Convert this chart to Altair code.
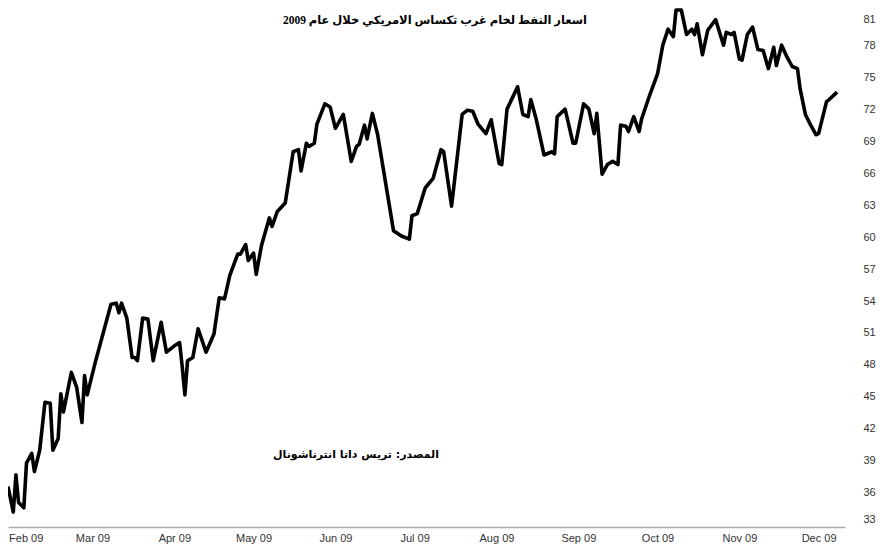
import altair as alt
import pandas as pd

dates = [
    "2009-02-11", "2009-02-13", "2009-02-14", "2009-02-15", "2009-02-17", "2009-02-18",
    "2009-02-20", "2009-02-21", "2009-02-23", "2009-02-25", "2009-02-27", "2009-02-28",
    "2009-03-02", "2009-03-03", "2009-03-04", "2009-03-07", "2009-03-09", "2009-03-11", "2009-03-12",
    "2009-03-13", "2009-03-16", "2009-03-22", "2009-03-24", "2009-03-25", "2009-03-26", "2009-03-28",
    "2009-03-30", "2009-03-31",
    "2009-04-01", "2009-04-03", "2009-04-05", "2009-04-07", "2009-04-10", "2009-04-12", "2009-04-15",
    "2009-04-17", "2009-04-18", "2009-04-19", "2009-04-20", "2009-04-22", "2009-04-24", "2009-04-27",
    "2009-04-30",
    "2009-05-02", "2009-05-04", "2009-05-06", "2009-05-09", "2009-05-10", "2009-05-12", "2009-05-13",
    "2009-05-15", "2009-05-16", "2009-05-18", "2009-05-21", "2009-05-22", "2009-05-24", "2009-05-27",
    "2009-05-30",
    "2009-06-01", "2009-06-02", "2009-06-04", "2009-06-05", "2009-06-07", "2009-06-08", "2009-06-11",
    "2009-06-13", "2009-06-15", "2009-06-18", "2009-06-21", "2009-06-23", "2009-06-24", "2009-06-26",
    "2009-06-27", "2009-06-29",
    "2009-07-01", "2009-07-07", "2009-07-10", "2009-07-13", "2009-07-14", "2009-07-16", "2009-07-19",
    "2009-07-22", "2009-07-25", "2009-07-26", "2009-07-29",
    "2009-08-02", "2009-08-04", "2009-08-06", "2009-08-08", "2009-08-11", "2009-08-13", "2009-08-16",
    "2009-08-17", "2009-08-19", "2009-08-23", "2009-08-25", "2009-08-27", "2009-08-28", "2009-08-30",
    "2009-09-02", "2009-09-05", "2009-09-06", "2009-09-07", "2009-09-10", "2009-09-13", "2009-09-14",
    "2009-09-17", "2009-09-19", "2009-09-21", "2009-09-22", "2009-09-24", "2009-09-26", "2009-09-28",
    "2009-09-30",
    "2009-10-01", "2009-10-03", "2009-10-04", "2009-10-06", "2009-10-08", "2009-10-09", "2009-10-12",
    "2009-10-15", "2009-10-17", "2009-10-19", "2009-10-21", "2009-10-22", "2009-10-24", "2009-10-26",
    "2009-10-28", "2009-10-29", "2009-10-30",
    "2009-11-01", "2009-11-03", "2009-11-06", "2009-11-09", "2009-11-10", "2009-11-12", "2009-11-13",
    "2009-11-15", "2009-11-16", "2009-11-18", "2009-11-20", "2009-11-22", "2009-11-24", "2009-11-26",
    "2009-11-28", "2009-11-29",
    "2009-12-01", "2009-12-03", "2009-12-05", "2009-12-07", "2009-12-08", "2009-12-10", "2009-12-12",
    "2009-12-14", "2009-12-15", "2009-12-18", "2009-12-19", "2009-12-22",
]

prices = [
    36.6, 34.2, 37.7, 35.1, 34.6, 38.8, 39.7, 38.0, 40.0, 44.5, 44.4, 40.0,
    41.1, 45.3, 43.6, 47.3, 45.9, 42.6, 47.0, 45.2, 48.2, 53.7, 53.8, 52.9, 53.8, 52.4, 48.7, 48.7,
    48.4, 52.4, 52.3, 48.4, 52.0, 49.2, 49.8, 50.1, 47.8, 45.2, 48.4, 48.7, 51.4, 49.2, 50.9,
    54.3, 54.2, 56.4, 58.4, 58.4, 59.3, 57.8, 58.5, 56.5, 59.2, 61.8, 61.0, 62.4, 63.2, 68.0,
    68.2, 66.2, 68.8, 68.5, 68.8, 70.6, 72.5, 72.2, 70.2, 71.5, 67.1, 68.5, 68.7, 70.5, 69.2, 71.6,
    69.6, 60.6, 60.1, 59.8, 62.0, 62.2, 64.6, 65.5, 68.2, 68.0, 62.9,
    71.5, 71.9, 71.8, 70.6, 69.7, 71.0, 66.9, 66.8, 72.0, 74.1, 71.5, 71.3, 72.9, 71.1,
    67.7, 68.0, 67.8, 71.3, 72.0, 68.8, 68.8, 72.5, 72.0, 69.7, 71.6, 65.9, 66.8, 67.1, 66.8,
    70.5, 70.4, 69.9, 71.3, 69.9, 71.1, 73.3, 75.3, 78.0, 79.5, 78.8, 81.3, 81.3, 79.0, 79.5, 79.0, 80.0,
    77.1, 79.4, 80.4, 78.0, 79.2, 79.0, 79.2, 76.7, 76.6, 79.0, 79.7, 77.6, 77.5, 75.8, 77.8, 76.1,
    78.0, 76.9, 76.0, 75.8, 73.9, 71.5, 70.5, 69.6, 69.7, 72.7, 72.9, 73.6,
]

y_ticks = [33, 36, 39, 42, 45, 48, 51, 54, 57, 60, 63, 66, 69, 72, 75, 78, 81]
tick_months = [2, 3, 4, 5, 6, 7, 8, 9, 10, 11, 12]

title_text = "اسعار النفط لخام غرب تكساس الامريكي خلال عام 2009"
source_text = "المصدر: تريس داتا انترناشونال"

df = pd.DataFrame({"date": dates, "price": prices})

x_enc = alt.X(
    "date:T",
    scale=alt.Scale(
        type="utc",
        domain=[alt.DateTime(year=2009, month=2, date=11, utc=True),
                alt.DateTime(year=2009, month=12, date=25, utc=True)],
    ),
    axis=alt.Axis(
        values=[alt.DateTime(year=2009, month=m, date=15, utc=True) for m in tick_months],
        format="%b %y",
        title=None,
        ticks=False,
        grid=False,
        domain=True,
        domainColor="#aaaaaa",
        domainWidth=1.5,
        labelPadding=5,
        labelFont="Liberation Sans",
        labelFontSize=11,
        labelColor="#333333",
        labelOverlap=False,
        labelFlush=12,
        labelFlushOffset=10,
    ),
)

y_enc = alt.Y(
    "price:Q",
    scale=alt.Scale(domain=[32.8, 81.3], nice=False, zero=False),
    axis=alt.Axis(
        orient="right",
        values=y_ticks,
        title=None,
        ticks=False,
        grid=False,
        domain=False,
        labelPadding=18,
        labelAlign="left",
        labelFlush=4,
        labelFont="Liberation Sans",
        labelFontSize=11,
        labelColor="#333333",
        labelOverlap=False,
    ),
)

line = alt.Chart(df).mark_line(
    color="black", strokeWidth=3.6, strokeJoin="round"
).encode(x=x_enc, y=y_enc)

title = alt.Chart(pd.DataFrame({"t": [title_text]})).mark_text(
    font="Liberation Serif, DejaVu Sans", fontSize=11.5, fontWeight="bold", color="black"
).encode(text="t:N", x=alt.value(427), y=alt.value(11))

source = alt.Chart(pd.DataFrame({"t": [source_text]})).mark_text(
    font="DejaVu Sans", fontSize=11, fontWeight="bold", color="black"
).encode(text="t:N", x=alt.value(348), y=alt.value(445))

chart = (
    alt.layer(line, title, source)
    .properties(
        width=837,
        height=517,
        padding={"left": 0, "top": 2, "right": 33, "bottom": 18},
        autosize=alt.AutoSizeParams(type="none"),
        background="white",
    )
    .configure_view(stroke=None)
)

chart.save("out.html", embed_options={"renderer": "svg", "actions": False})
